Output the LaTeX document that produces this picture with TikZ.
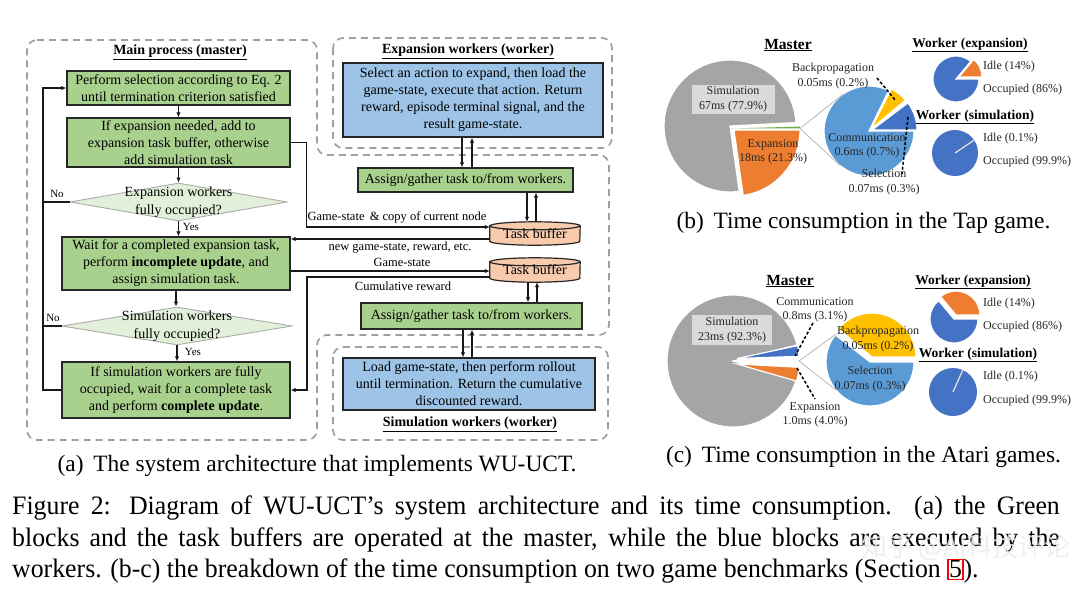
\documentclass[tikz,border=0pt]{standalone}
\usepackage{fontspec}
\usepackage{graphicx}
\setmainfont{Liberation Serif}
\newfontfamily\cjkfont{Noto Sans CJK SC}
\usetikzlibrary{shapes.geometric,arrows.meta,calc,backgrounds}
\definecolor{gfill}{HTML}{A9D18E}
\definecolor{dfill}{HTML}{E2F0D9}
\definecolor{bfill}{HTML}{9DC3E6}
\definecolor{tbfill}{HTML}{F8CBAD}
\definecolor{piegrey}{HTML}{A5A5A5}
\definecolor{pieorange}{HTML}{ED7D31}
\definecolor{pielblue}{HTML}{5B9BD5}
\definecolor{piedblue}{HTML}{4472C4}
\definecolor{pieyellow}{HTML}{FFC000}
\definecolor{piegreen}{HTML}{70AD47}
\definecolor{labgrey}{HTML}{DADADA}
\newcommand\fsz[2]{\fontsize{#1}{#2}\selectfont}
\begin{document}
\begin{tikzpicture}[x=1pt,y=-1pt,
  flowbox/.style={draw=black!85, line width=1.3pt, align=center, inner sep=0pt, font=\fsz{14}{17}},
  gbox/.style={flowbox, fill=gfill},
  bbox/.style={flowbox, fill=bfill},
  dia/.style={diamond, draw=gray!65, line width=0.9pt, fill=dfill, inner sep=0pt},
  dtext/.style={align=center, inner sep=0pt, font=\fsz{14}{18.5}},
  farrow/.style={-{Latex[length=5pt,width=4.5pt]}, line width=1.2pt, draw=black!90},
  plainln/.style={line width=1.2pt, draw=black!90},
  mregion/.style={draw=gray!75, line width=1.7pt, dash pattern=on 7pt off 5pt, rounded corners=10pt},
  ttl/.style={font=\bfseries\fsz{14}{16}, inner sep=0pt},
  elbl/.style={font=\fsz{12.5}{14}, inner sep=0pt},
  yn/.style={font=\fsz{11}{12}, inner sep=0pt},
  tbnode/.style={minimum width=90pt, inner sep=0pt, font=\fsz{14}{16}},
  cyl/.style={fill=tbfill, draw=black!85, line width=1.2pt},
  plab/.style={font=\fsz{12}{14.5}, align=center, inner sep=0pt, text=black!85},
  ptitle/.style={font=\bfseries\fsz{13.5}{16}, inner sep=0pt},
  pwedge/.style={draw=white, line width=1.2pt},
  leader/.style={draw=black, line width=1.5pt, dash pattern=on 3pt off 2pt},
  serl/.style={draw=gray!70, line width=0.6pt},
  capt/.style={font=\fsz{23.4}{27}, inner sep=0pt}]
\useasboundingbox (0,0) rectangle (1080,600);

% ---------------- dashed regions ----------------
\draw[mregion] (27,40) -- (317,40) -- (317,155) -- (609,155) -- (609,335) -- (317,335) -- (317,440) -- (27,440) -- cycle;
\draw[mregion] (333,38) rectangle (612,148);
\draw[mregion] (333,347) rectangle (608,440);

\node[ttl] (tmain) at (180,52) {\underline{Main process (master)}};
\node[ttl] (texp) at (468,51) {\underline{Expansion workers (worker)}};
\node[ttl] (tsim) at (470,424) {\underline{Simulation workers (worker)}};

% ---------------- main flow ----------------
\node[gbox, minimum width=223pt, minimum height=34pt] (b1) at (178.5,88) {Perform selection according to Eq. 2\\until termination criterion satisfied};
\node[gbox, minimum width=223pt, minimum height=49pt] (b2) at (178.5,142.5) {If expansion needed, add to\\expansion task buffer, otherwise\\add simulation task};
\node[dia, minimum width=217pt, minimum height=38pt] (d1) at (178.5,202) {};
\node[dtext] (d1t) at (d1) {Expansion workers\\fully occupied?};
\node[gbox, minimum width=228pt, minimum height=53pt] (b3) at (176,263.5) {Wait for a completed expansion task,\\perform \textbf{incomplete update}, and\\assign simulation task.};
\node[dia, minimum width=230pt, minimum height=38pt] (d2) at (177,326) {};
\node[dtext] (d2t) at (d2) {Simulation workers\\fully occupied?};
\node[gbox, minimum width=228pt, minimum height=56pt] (b4) at (176,390) {If simulation workers are fully\\occupied, wait for a complete task\\and perform \textbf{complete update}.};

\draw[farrow] (b1.south) -- (b2.north);
\draw[farrow] (b2.south) -- (d1.north);
\draw[farrow] (d1.south) -- (d1.south |- b3.north);
\draw[farrow] (b3.south) -- (b3.south |- d2.north);
\draw[farrow] (d2.south) -- (d2.south |- b4.north);
\node[yn] (yes1) at (191,227) {Yes};
\node[yn] (yes2) at (193,352) {Yes};

\coordinate (lp) at (43,240);
\draw[farrow] (b4.west) -| (lp) |- (b1.west);
\draw[plainln] (d1.west) -- (d1.west -| lp);
\draw[plainln] (d2.west) -- (d2.west -| lp);
\node[yn] (no1) at (57,194) {No};
\node[yn] (no2) at (53,318) {No};

% ---------------- middle: buffers and assign/gather ----------------
\node[bbox, minimum width=260pt, minimum height=74pt] (eb) at (473,100) {Select an action to expand, then load the\\game-state, execute that action. Return\\reward, episode terminal signal, and the\\result game-state.};
\node[gbox, minimum width=215pt, minimum height=24pt] (ag1) at (465.5,180) {Assign/gather task to/from workers.};
\node[tbnode, minimum height=15pt] (tb1) at (535,233.5) {Task buffer};
\node[tbnode, minimum height=16pt] (tb2) at (535,270) {Task buffer};
\node[gbox, minimum width=221pt, minimum height=26pt] (ag2) at (471.5,316) {Assign/gather task to/from workers.};
\node[bbox, minimum width=252pt, minimum height=52pt] (sb) at (469,384) {Load game-state, then perform rollout\\until termination. Return the cumulative\\discounted reward.};

\begin{scope}[on background layer]
  \fill[white] (0,0) rectangle (1080,600);
  \filldraw[cyl] (tb1.north west) -- (tb1.south west) arc[start angle=180,end angle=0,x radius=45,y radius=4] -- (tb1.north east) arc[start angle=0,end angle=-180,x radius=45,y radius=4] -- cycle;
  \draw[cyl, fill=none] (tb1.north west) arc[start angle=180,end angle=0,x radius=45,y radius=4];
  \filldraw[cyl] (tb2.north west) -- (tb2.south west) arc[start angle=180,end angle=0,x radius=45,y radius=4] -- (tb2.north east) arc[start angle=0,end angle=-180,x radius=45,y radius=4] -- cycle;
  \draw[cyl, fill=none] (tb2.north west) arc[start angle=180,end angle=0,x radius=45,y radius=4];
\end{scope}
\coordinate (tb1top) at ($(tb1.north)+(0,-4)$);
\coordinate (tb2bot) at ($(tb2.south)+(0,4)$);

\draw[farrow] (eb.south -| 462,0) -- (ag1.north -| 462,0);
\draw[farrow] (ag1.north -| 472,0) -- (eb.south -| 472,0);
\draw[farrow] (ag1.south -| 527,0) -- (tb1top -| 527,0);
\draw[farrow] (tb1top -| 536,0) -- (ag1.south -| 536,0);
\draw[farrow] (tb2bot -| 528,0) -- (ag2.north -| 528,0);
\draw[farrow] (ag2.north -| 537,0) -- (tb2bot -| 537,0);
\draw[farrow] (ag2.south -| 463,0) -- (sb.north -| 463,0);
\draw[farrow] (sb.north -| 472,0) -- (ag2.south -| 472,0);

% connectors between main flow and buffers
\coordinate (cr) at (307,390);
\draw[farrow] (b2.east) -- ++(16,0) |- (tb1.west |- 0,227);
\draw[farrow] (tb1.west |- 0,239) -- (b3.east |- 0,239);
\draw[farrow] (b3.east |- 0,271) -- (tb2.west |- 0,271);
\draw[farrow] (tb2.west |- 0,277) -| (cr) -- (b4.east |- cr);
\node[elbl] (l1) at (397,217) {Game-state \,\& copy of current node};
\node[elbl] (l2) at (400,248) {new game-state, reward, etc.};
\node[elbl] (l3) at (402,262) {Game-state};
\node[elbl] (l4) at (403,286) {Cumulative reward};

\node[capt] (capa) at (317,466) {(a)\, The system architecture that implements WU-UCT.};

% ---------------- (b) Tap game pies ----------------
\begin{scope}[shift={(730,126)}, y=1pt]
  \filldraw[pwedge, fill=piegrey] (0,0) -- (3:66) arc[start angle=3,end angle=278,radius=66] -- cycle;
\end{scope}
\begin{scope}[shift={(731,128.5)}, y=1pt]
  \fill[piegreen] (0,0) -- (0.2:69) arc[start angle=0.2,end angle=1.6,radius=69] -- cycle;
\end{scope}
\coordinate (gs1) at (800,128.5);
\begin{scope}[shift={(734,130)}, y=1pt]
  \filldraw[pwedge, fill=pieorange] (0,0) -- (0:66) arc[start angle=0,end angle=-82,radius=66] -- cycle;
\end{scope}
\begin{scope}[shift={(869,131)}, y=1pt]
  \filldraw[pwedge, fill=pielblue] (0,0) -- (64:45) arc[start angle=64,end angle=360,radius=45] -- cycle;
  \coordinate (sp1a) at (125:45);
  \coordinate (sp1b) at (230:45);
\end{scope}
\begin{scope}[shift={(871,129)}, y=1pt]
  \filldraw[pwedge, fill=pieyellow] (0,0) -- (40:45) arc[start angle=40,end angle=63,radius=45] -- cycle;
\end{scope}
\begin{scope}[shift={(872,130)}, y=1pt]
  \filldraw[pwedge, fill=piedblue] (0,0) -- (0:45) arc[start angle=0,end angle=37,radius=45] -- cycle;
\end{scope}
\draw[serl] (gs1) -- (sp1a);
\draw[serl] (gs1) -- (sp1b);

\begin{scope}[shift={(956,79)}, y=1pt]
  \filldraw[pwedge, fill=piedblue] (0,0) -- (50:23) arc[start angle=50,end angle=360,radius=23] -- cycle;
\end{scope}
\begin{scope}[shift={(959,77)}, y=1pt]
  \filldraw[pwedge, fill=pieorange] (0,0) -- (0:23) arc[start angle=0,end angle=50,radius=23] -- cycle;
\end{scope}
\begin{scope}[shift={(955,153)}, y=1pt]
  \fill[piedblue] (0,0) circle[radius=23];
  \draw[gray!25, line width=1.3pt] (0,0) -- (34:23);
\end{scope}

\node[ptitle, font=\bfseries\fsz{15.5}{17}] (mt1) at (788,45) {\underline{Master}};
\node[ptitle] (we1) at (970,45) {\underline{Worker (expansion)}};
\node[ptitle] (ws1) at (975,117) {\underline{Worker (simulation)}};
\node[plab, fill=labgrey, minimum width=83pt, minimum height=29pt] (sim1) at (733,99) {Simulation\\67ms (77.9\%)};
\node[plab] (exp1) at (773,152) {Expansion\\18ms (21.3\%)};
\node[plab] (bp1) at (833,76) {Backpropagation\\0.05ms (0.2\%)};
\node[plab] (co1) at (867,146) {Communication\\0.6ms (0.7\%)};
\node[plab] (se1) at (884,182) {Selection\\0.07ms (0.3\%)};
\coordinate (ld1a) at (877,78); \coordinate (ld1b) at (896,101);
\coordinate (ld2a) at (908,117); \coordinate (ld2b) at (902,174);
\draw[leader] (ld1a) -- (ld1b);
\draw[leader] (ld2a) -- (ld2b);
\node[plab, anchor=west] (i1) at (983,67) {Idle (14\%)};
\node[plab, anchor=west] (o1) at (983,90) {Occupied (86\%)};
\node[plab, anchor=west] (i2) at (983,139) {Idle (0.1\%)};
\node[plab, anchor=west] (o2) at (983,162) {Occupied (99.9\%)};
\node[capt] (capb) at (863.5,223) {(b)\, Time consumption in the Tap game.};

% ---------------- (c) Atari pies ----------------
\begin{scope}[shift={(733,361)}, y=1pt]
  \filldraw[pwedge, fill=piegrey] (0,0) -- (14:66) arc[start angle=14,end angle=345,radius=66] -- cycle;
\end{scope}
\begin{scope}[shift={(737,358.5)}, y=1pt]
  \filldraw[pwedge, fill=piedblue] (0,0) -- (2:62) arc[start angle=2,end angle=12,radius=62] -- cycle;
\end{scope}
\begin{scope}[shift={(737,364)}, y=1pt]
  \filldraw[pwedge, fill=pieorange] (0,0) -- (-3:62) arc[start angle=-3,end angle=-16,radius=62] -- cycle;
\end{scope}
\coordinate (gs2) at (799,361);
\begin{scope}[shift={(870,362)}, y=1pt]
  \filldraw[pwedge, fill=pielblue] (0,0) -- (142:44) arc[start angle=142,end angle=360,radius=44] -- cycle;
  \coordinate (sp2a) at (140:44);
  \coordinate (sp2b) at (220:44);
\end{scope}
\begin{scope}[shift={(872,357)}, y=1pt]
  \filldraw[pwedge, fill=pieyellow] (0,0) -- (0:44) arc[start angle=0,end angle=140,radius=44] -- cycle;
\end{scope}
\draw[serl] (gs2) -- (sp2a);
\draw[serl] (gs2) -- (sp2b);

\begin{scope}[shift={(954,319)}, y=1pt]
  \filldraw[pwedge, fill=piedblue] (0,0) -- (130:24) arc[start angle=130,end angle=360,radius=24] -- cycle;
\end{scope}
\begin{scope}[shift={(956,315)}, y=1pt]
  \filldraw[pwedge, fill=pieorange] (0,0) -- (0:24) arc[start angle=0,end angle=130,radius=24] -- cycle;
\end{scope}
\begin{scope}[shift={(953,392)}, y=1pt]
  \fill[piedblue] (0,0) circle[radius=24];
  \draw[gray!25, line width=1.3pt] (0,0) -- (66:24);
\end{scope}

\node[ptitle, font=\bfseries\fsz{15.5}{17}] (mt2) at (790,281) {\underline{Master}};
\node[ptitle] (we2) at (973,282) {\underline{Worker (expansion)}};
\node[ptitle] (ws2) at (978,355) {\underline{Worker (simulation)}};
\node[plab, fill=labgrey, minimum width=80pt, minimum height=30pt] (sim2) at (732,330) {Simulation\\23ms (92.3\%)};
\node[plab] (co2) at (815,310) {Communication\\0.8ms (3.1\%)};
\node[plab] (ex2) at (815,415) {Expansion\\1.0ms (4.0\%)};
\node[plab] (bp2) at (878,339) {Backpropagation\\0.05ms (0.2\%)};
\node[plab] (se2) at (870,379) {Selection\\0.07ms (0.3\%)};
\coordinate (ld3a) at (813,323); \coordinate (ld3b) at (795,356);
\coordinate (ld4a) at (797,368); \coordinate (ld4b) at (815,399);
\draw[leader] (ld3a) -- (ld3b);
\draw[leader] (ld4a) -- (ld4b);
\node[plab, anchor=west] (i3) at (983,304) {Idle (14\%)};
\node[plab, anchor=west] (o3) at (983,327) {Occupied (86\%)};
\node[plab, anchor=west] (i4) at (983,377) {Idle (0.1\%)};
\node[plab, anchor=west] (o4) at (983,401) {Occupied (99.9\%)};
\node[capt] (capc) at (863.5,457) {(c)\, Time consumption in the Atari games.};

% ---------------- figure caption ----------------
\node[anchor=north west, inner sep=0pt] (figcap) at (12,496) {\scalebox{0.97}[1]{\parbox{1080pt}{\fsz{26.6}{31.5}\setlength\fboxsep{0.5pt}\setlength\fboxrule{1.3pt}\spaceskip=0.25em plus 0.25em minus 0.12em\relax Figure 2: Diagram of WU-UCT's system architecture and its time consumption.\ \ (a) the Green\linebreak blocks and the task buffers are operated at the master, while the blue blocks are executed by the\linebreak workers. (b-c) the breakdown of the time consumption on two game benchmarks (Section~\textcolor{red}{\fbox{\textcolor{black}{5}}}).}}};
\node[font=\cjkfont\fsz{26}{28}, text=gray!15, opacity=0.85, inner sep=0pt] (wm) at (966,548) {知乎 @AI科技评论};
\end{tikzpicture}
\end{document}
